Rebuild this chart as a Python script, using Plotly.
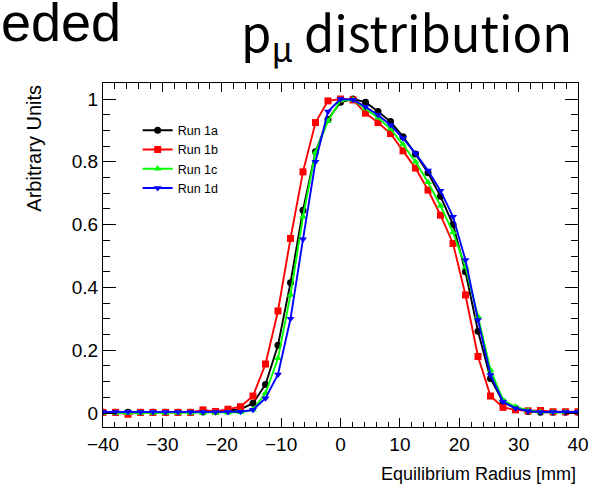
import plotly.graph_objects as go

# ---- data ----
# bin centres of the histogram (39 points spanning -40 .. 40 mm)
radius_mm = [-40.00, -37.89, -35.79, -33.68, -31.58, -29.47, -27.37, -25.26, -23.16, -21.05,
             -18.95, -16.84, -14.74, -12.63, -10.53, -8.42, -6.32, -4.21, -2.11, 0.00,
             2.11, 4.21, 6.32, 8.42, 10.53, 12.63, 14.74, 16.84, 18.95, 21.05,
             23.16, 25.26, 27.37, 29.47, 31.58, 33.68, 35.79, 37.89, 40.00]

run_1a = [0.002, 0.002, 0.002, 0.002, 0.002, 0.002, 0.002, 0.002, 0.003, 0.004,
          0.008, 0.012, 0.031, 0.091, 0.216, 0.415, 0.646, 0.832, 0.935, 0.990,
          1.000, 0.990, 0.960, 0.928, 0.880, 0.825, 0.765, 0.690, 0.600, 0.450,
          0.260, 0.110, 0.036, 0.015, 0.005, 0.002, 0.002, 0.002, 0.002]

run_1b = [0.002, 0.002, -0.004, 0.002, 0.002, 0.002, 0.002, 0.002, 0.010, 0.005,
          0.012, 0.020, 0.054, 0.156, 0.325, 0.556, 0.768, 0.925, 0.994, 1.000,
          0.997, 0.955, 0.925, 0.890, 0.835, 0.780, 0.710, 0.630, 0.540, 0.376,
          0.180, 0.054, 0.018, 0.010, 0.007, 0.008, 0.004, 0.004, 0.004]

run_1c = [0.000, 0.000, 0.000, 0.000, 0.000, 0.000, 0.000, 0.000, 0.000, 0.000,
          0.001, 0.002, 0.010, 0.063, 0.174, 0.376, 0.625, 0.830, 0.930, 0.995,
          0.998, 0.970, 0.940, 0.905, 0.855, 0.800, 0.735, 0.660, 0.575, 0.466,
          0.307, 0.137, 0.041, 0.020, 0.008, 0.003, 0.002, 0.002, 0.002]

run_1d = [0.003, 0.003, 0.003, 0.003, 0.003, 0.003, 0.003, 0.003, 0.003, 0.003,
          0.003, 0.004, 0.010, 0.047, 0.123, 0.300, 0.553, 0.800, 0.960, 1.000,
          0.998, 0.975, 0.949, 0.917, 0.875, 0.827, 0.772, 0.708, 0.625, 0.487,
          0.296, 0.121, 0.036, 0.015, 0.006, 0.003, 0.003, 0.003, 0.003]

series_names = ["Run 1a", "Run 1b", "Run 1c", "Run 1d"]
series_values = [run_1a, run_1b, run_1c, run_1d]
series_colors = ["#000000", "#ff0000", "#00ff00", "#0000ff"]
series_symbols = ["circle", "square", "triangle-up", "triangle-down"]

x_ticks = [-40, -30, -20, -10, 0, 10, 20, 30, 40]
y_ticks = [0, 0.2, 0.4, 0.6, 0.8, 1]

fig = go.Figure()
for name, vals, col, sym in zip(series_names, series_values, series_colors, series_symbols):
    fig.add_trace(go.Scatter(
        x=radius_mm, y=vals, name=name, mode="lines+markers",
        line=dict(color=col, width=1.9),
        marker=dict(color=col, symbol=sym, size=7, line=dict(width=0)),
    ))

font_ax = dict(family="Liberation Sans, Arial, sans-serif", size=19, color="black")

fig.update_layout(
    width=605, height=488,
    margin=dict(l=103, r=27, t=83, b=61, pad=0),
    paper_bgcolor="white", plot_bgcolor="white",
    showlegend=True,
    legend=dict(x=0.073, y=0.905, xanchor="left", yanchor="top",
                bgcolor="rgba(0,0,0,0)", borderwidth=0,
                font=dict(family="Liberation Sans, Arial, sans-serif", size=12.5, color="black"),
                itemwidth=30, tracegroupgap=0),
    xaxis=dict(range=[-40, 40], tickvals=x_ticks, ticks="inside", ticklen=9,
               tickwidth=1, tickcolor="black", showline=True, linecolor="black",
               linewidth=1, mirror="allticks", showgrid=False, zeroline=False,
               tickfont=font_ax,
               minor=dict(dtick=2, tick0=0, ticks="inside", ticklen=5.5,
                          tickcolor="black", tickwidth=1, showgrid=False)),
    yaxis=dict(range=[-0.0446, 1.051], tickvals=y_ticks, ticks="inside", ticklen=13,
               tickwidth=1, tickcolor="black", showline=True, linecolor="black",
               linewidth=1, mirror="allticks", showgrid=False, zeroline=False,
               tickfont=font_ax,
               minor=dict(dtick=0.05, tick0=0, ticks="inside", ticklen=7,
                          tickcolor="black", tickwidth=1, showgrid=False)),
)

annotations = [
    dict(text="Equilibrium Radius [mm]", xref="paper", yref="paper",
         x=1.0, y=-0.137, xanchor="right", yanchor="middle", showarrow=False,
         font=dict(family="Liberation Sans, Arial, sans-serif", size=18, color="black")),
    dict(text="Arbitrary Units", xref="paper", yref="paper", textangle=-90,
         x=-0.147, y=1.0, xanchor="center", yanchor="top", showarrow=False,
         font=dict(family="Liberation Sans, Arial, sans-serif", size=20, color="black")),
    dict(text="p<sub>μ</sub> distribution", xref="paper", yref="paper",
         x=0.992, y=1.145, xanchor="right", yanchor="middle", showarrow=False,
         font=dict(family="Noto Sans CJK SC, Noto Sans, sans-serif", size=49, color="black")),
    dict(text="eded", xref="paper", yref="paper",
         x=-0.218, y=1.178, xanchor="left", yanchor="middle", showarrow=False,
         font=dict(family="Liberation Sans, Arial, sans-serif", size=54, color="black")),
]
fig.update_layout(annotations=annotations)

fig.write_html("out.html")
